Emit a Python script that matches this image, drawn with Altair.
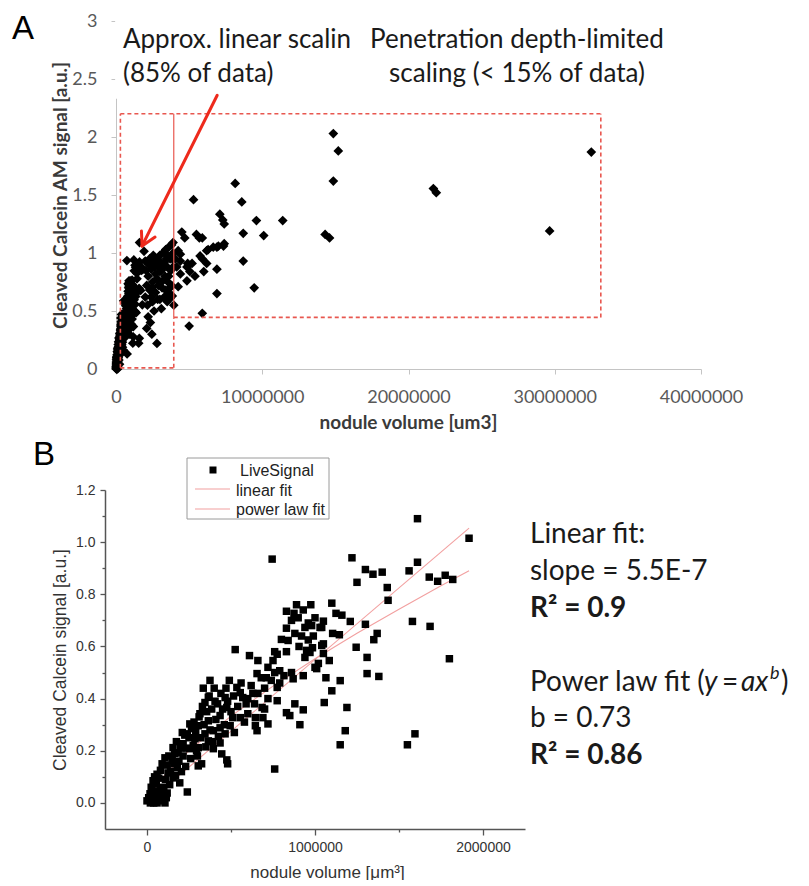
import altair as alt
import pandas as pd

# ---------------- data ----------------
# Panel B points: nodule volume (thousands of um^3) and cleaved calcein signal (a.u.)
b_vol_k = [
    1610, 1917, 1220, 1300, 1345, 1400, 1250, 1430, 1435, 1560, 1610, 1680, 1730, 1775, 1820,
    1580, 1685, 1800, 1300, 1370, 1350, 1245, 1310, 1310, 1380, 1210, 1100, 1125, 1160, 1050,
    1040, 1105, 1145, 1050, 1085, 1065, 1150, 1100, 1055, 1190, 1180, 1595, 1150, 1550, 930,
    910, 1010, 1020, 1040, 970, 930,
    745, 890, 975, 830, 875, 830, 940, 980, 1030, 800, 840, 905, 985, 1050, 760, 830, 950,
    525, 610, 660, 775, 750, 720, 940, 1000, 960, 900, 860, 930, 1000, 880, 920, 990, 960,
    655, 680, 710, 790, 815, 860, 870, 775, 775, 830, 880, 850, 685, 630, 570, 645, 690, 720,
    645, 655, 535, 490, 555, 590, 600, 555, 465, 475, 435, 510, 495, 375, 335, 365, 405, 345,
    315, 365, 395, 435, 465, 345, 305, 255, 285, 240, 210, 365, 435, 395, 445, 475, 305, 255,
    300, 325, 215, 185, 155, 150, 180, 107, 90, 125, 155, 195, 240, 60, 36, 77, 120, 95, 18,
    0, 760, 107, 480, 305,
    10, 20, 30, 45, 50, 55, 65, 70, 80, 85, 100, 110, 120, 130, 135, 140, 160, 165, 170, 175,
    190, 200, 205, 215, 225, 230, 240, 250, 260, 265, 275, 280, 290, 295, 310, 320, 330, 340,
    350, 355, 370, 375, 385, 390, 400, 410, 420, 425, 440, 450, 460, 470, 480, 500, 515, 520,
    540, 560, 580, 600, 620, 640, 660, 700, 720, 740, 700, 760, 790, 25, 45, 60, 90, 115, 40,
]
b_sig = [
    1.09, 1.015, 0.94, 0.895, 0.877, 0.885, 0.846, 0.826, 0.777, 0.89, 0.923, 0.866, 0.85, 0.873, 0.857,
    0.696, 0.677, 0.553, 0.685, 0.65, 0.626, 0.597, 0.558, 0.496, 0.485, 0.696, 0.766, 0.727, 0.72, 0.697,
    0.673, 0.65, 0.645, 0.61, 0.546, 0.48, 0.469, 0.43, 0.385, 0.366, 0.277, 0.265, 0.223, 0.223, 0.357,
    0.30, 0.515, 0.535, 0.604, 0.577, 0.488,
    0.935, 0.76, 0.76, 0.735, 0.727, 0.67, 0.673, 0.68, 0.673, 0.627, 0.623, 0.60, 0.595, 0.573, 0.58, 0.58, 0.585,
    0.588, 0.565, 0.546, 0.57, 0.546, 0.52, 0.558, 0.52, 0.69, 0.71, 0.70, 0.74, 0.71, 0.65, 0.64, 0.64, 0.625,
    0.496, 0.48, 0.48, 0.507, 0.488, 0.50, 0.476, 0.443, 0.392, 0.346, 0.38, 0.335, 0.366, 0.42, 0.404, 0.327, 0.327, 0.303,
    0.296, 0.277, 0.443, 0.47, 0.423, 0.38, 0.342, 0.327, 0.404, 0.366, 0.335, 0.327, 0.296, 0.47, 0.44, 0.405, 0.39, 0.385,
    0.342, 0.315, 0.277, 0.288, 0.265, 0.265, 0.296, 0.303, 0.246, 0.265, 0.27, 0.238, 0.23, 0.208, 0.188, 0.165, 0.212, 0.208,
    0.18, 0.15, 0.227, 0.192, 0.212, 0.162, 0.135, 0.173, 0.15, 0.115, 0.096, 0.077, 0.042, 0.11, 0.085, 0.058, 0.038, 0.008, 0.035,
    0.008, 0.13, 0.0, 0.15, 0.142,
    0.02, 0.0, 0.05, 0.02, 0.045, 0.075, 0.03, 0.095, 0.125, 0.02, 0.06, 0.09, 0.145, 0.18, 0.07, 0.12, 0.15, 0.19, 0.105, 0.235,
    0.16, 0.21, 0.12, 0.18, 0.26, 0.14, 0.21, 0.25, 0.17, 0.285, 0.22, 0.31, 0.27, 0.20, 0.33, 0.25, 0.37, 0.30,
    0.215, 0.35, 0.41, 0.28, 0.36, 0.235, 0.44, 0.32, 0.38, 0.255, 0.42, 0.36, 0.30, 0.44, 0.39, 0.35, 0.41, 0.27,
    0.37, 0.46, 0.31, 0.40, 0.45, 0.38, 0.42, 0.44, 0.40, 0.47, 0.36, 0.50, 0.46, 0.06, 0.10, 0.0, 0.04, 0.02, 0.0,
]

# Panel A: the same nodules plus the larger ones (thousands of um^3, a.u.)
a_extra_vol_k = [
    14860, 15200, 14860, 8150, 5300, 8600, 32500, 21700, 21900, 29650, 7100, 7300, 7400, 9600, 11400,
    8700, 10100, 14300, 14600, 8700, 6900, 6900, 9450, 5900, 5000, 4500, 4700, 5500, 5700, 5900,
    7350, 6900, 6300, 5750, 6200, 5200, 4850, 4400, 4400, 4250, 4850, 5400, 6000, 3850, 3900,
    4250, 4400, 5050, 5900, 6200, 6650, 7000, 7400, 4900, 3700, 2800, 2450, 2100,
    2000, 2100, 2200, 2300, 2400, 2500, 2500, 2600, 2700, 2700, 2800, 2900, 2900, 3000, 3000,
    3100, 3200, 3200, 3300, 3400, 3400, 3500, 3500, 3600, 3600, 3700, 3800, 3800, 3900, 3950,
    2200, 2600, 2350, 3100, 2000,
    2050, 2150, 2250, 2300, 2450, 2550, 2650, 2800, 2850, 3000, 3050, 3150, 3250, 3300, 3350,
    3450, 3500, 3650, 3700, 3850, 3900, 2400, 2750, 3550, 3750, 4050, 4150,
]
a_extra_sig = [
    2.03, 1.88, 1.62, 1.60, 1.46, 1.44, 1.87, 1.555, 1.52, 1.19, 1.335, 1.285, 1.25, 1.28, 1.28,
    1.17, 1.15, 1.16, 1.13, 0.93, 0.86, 0.65, 0.70, 0.48, 0.37, 1.18, 1.13, 1.16, 1.13, 1.13,
    1.06, 1.05, 1.03, 0.975, 0.91, 0.91, 0.88, 0.99, 0.82, 0.71, 0.76, 0.80, 0.84, 0.63, 1.09,
    1.02, 0.93, 0.84, 0.95, 1.02, 1.05, 1.06, 1.08, 0.91, 0.61, 0.22, 0.30, 0.35,
    0.62, 0.72, 0.80, 0.68, 0.86, 0.75, 0.58, 0.92, 0.82, 0.66, 0.95, 0.88, 0.72, 0.98, 0.60,
    0.85, 1.00, 0.76, 0.92, 1.03, 0.68, 0.88, 0.58, 1.05, 0.80, 0.95, 1.07, 0.72, 0.88, 0.55,
    0.45, 0.50, 0.40, 0.52, 0.93,
    0.85, 0.55, 0.90, 0.95, 0.70, 0.98, 0.88, 0.78, 0.60, 0.84, 0.92, 0.70, 0.88, 0.62, 0.80,
    0.95, 0.98, 0.65, 0.70, 0.95, 1.00, 0.62, 0.90, 0.75, 0.85, 0.95, 0.88,
]

# Panel B fit curves
lin_vol_k = [0, 1917]
lin_sig = [0.0, 1.054]
pow_vol_k = [0, 25, 100, 250, 500, 750, 1000, 1250, 1500, 1750, 1917]
pow_sig = [0.0, 0.037, 0.103, 0.20, 0.333, 0.448, 0.553, 0.651, 0.743, 0.833, 0.89]

# Panel A region boxes (thousands of um^3, a.u.)
dash_x1_k = [300, 300, 300, 3950, 3950, 33150]
dash_x2_k = [300, 33150, 3950, 3950, 33150, 33150]
dash_y1 = [0.01, 2.2, 0.01, 0.01, 0.445, 0.445]
dash_y2 = [2.2, 2.2, 0.01, 0.445, 0.445, 2.2]
solid_x1_k = [3950]
solid_x2_k = [3950]
solid_y1 = [0.445]
solid_y2 = [2.2]
# red arrow: shaft and two barbs
arrow_x1_k = [6920, 1780, 1780]
arrow_x2_k = [1780, 1740, 2670]
arrow_y1 = [2.36, 1.06, 1.06]
arrow_y2 = [1.06, 1.19, 1.138]

a_xticks = [0, 10000000, 20000000, 30000000, 40000000]
a_yticks = [0, 0.5, 1, 1.5, 2, 2.5, 3]
b_xticks = [0, 500000, 1000000, 1500000, 2000000]
b_yticks = [0.0, 0.1, 0.2, 0.3, 0.4, 0.5, 0.6, 0.7, 0.8, 0.9, 1.0, 1.1, 1.2]

# ---------------- tables ----------------
dfB = pd.DataFrame({"vol": [v * 1000 for v in b_vol_k], "sig": b_sig})
dfA = pd.concat([dfB, pd.DataFrame({"vol": [v * 1000 for v in a_extra_vol_k], "sig": a_extra_sig})],
                ignore_index=True)
df_lin = pd.DataFrame({"vol": [v * 1000 for v in lin_vol_k], "sig": lin_sig})
df_pow = pd.DataFrame({"vol": [v * 1000 for v in pow_vol_k], "sig": pow_sig})


def seg_df(x1, x2, y1, y2):
    return pd.DataFrame({"vol": [v * 1000 for v in x1], "vol2": [v * 1000 for v in x2],
                         "sig": y1, "sig2": y2})


df_dash = seg_df(dash_x1_k, dash_x2_k, dash_y1, dash_y2)
df_solid = seg_df(solid_x1_k, solid_x2_k, solid_y1, solid_y2)
df_arrow = seg_df(arrow_x1_k, arrow_x2_k, arrow_y1, arrow_y2)
one = pd.DataFrame({"k": [0]})


def label(text, x, y, size, font="Lato", weight="normal", style="normal", align="left", color="#1a1a1a",
          baseline="middle"):
    return alt.Chart(one).mark_text(align=align, baseline=baseline, font=font, fontSize=size,
                                    fontWeight=weight, fontStyle=style, color=color).encode(
        x=alt.value(x), y=alt.value(y), text=alt.value(text))


# ---------------- panel A ----------------
WA, HA = 585, 348
axA_x = alt.Axis(values=a_xticks, format="d", title="nodule volume [um3]", grid=False,
                 domainColor="#c4c4c4", tickColor="#c4c4c4", tickSize=5, labelColor="#595959",
                 labelFont="Lato", labelFontSize=18, labelPadding=14, labelFlush=False, labelOverlap=False,
                 titleFont="Lato", titleFontSize=19, titleFontWeight="bold", titleColor="#3a3a3a",
                 titleX=292, titleY=53, titleBaseline="middle")
axA_y = alt.Axis(values=a_yticks, format="~g", title="Cleaved Calcein AM signal [a.u.]", grid=False,
                 domainColor="#c4c4c4", tickColor="#c4c4c4", tickSize=5, labelColor="#595959",
                 labelFont="Lato", labelFontSize=18, labelPadding=14, labelOverlap=False,
                 titleFont="Lato", titleFontSize=19, titleFontWeight="bold", titleColor="#3a3a3a",
                 titleX=-56, titleY=HA / 2, titleBaseline="middle", titleAngle=270)
scA_x = alt.Scale(domain=[0, 40000000], nice=False, zero=False)
scA_y = alt.Scale(domain=[0, 3], nice=False, zero=False)


def xa(f="vol"):
    return alt.X(f + ":Q", scale=scA_x, axis=axA_x, title="nodule volume [um3]")


def ya(f="sig"):
    return alt.Y(f + ":Q", scale=scA_y, axis=axA_y, title="Cleaved Calcein AM signal [a.u.]")


pointsA = alt.Chart(dfA).mark_point(shape="diamond", filled=True, size=95, color="black",
                                    opacity=1).encode(x=xa(), y=ya())
cover = alt.Chart(one).mark_rect(color="white").encode(
    x=alt.XDatum(-60000, scale=scA_x, axis=axA_x), x2=alt.X2Datum(33600000),
    y=alt.YDatum(2.33, scale=scA_y, axis=axA_y), y2=alt.Y2Datum(3.06))
dashA = alt.Chart(df_dash).mark_rule(color="#e8574f", strokeWidth=1.6, strokeDash=[4, 3]).encode(
    x=xa(), x2="vol2:Q", y=ya(), y2="sig2:Q")
solidA = alt.Chart(df_solid).mark_rule(color="#e8574f", strokeWidth=1.2).encode(
    x=xa(), x2="vol2:Q", y=ya(), y2="sig2:Q")
arrowA = alt.Chart(df_arrow).mark_rule(color="#ee2a1c", strokeWidth=3, strokeCap="round").encode(
    x=xa(), x2="vol2:Q", y=ya(), y2="sig2:Q")

panelA = alt.layer(
    cover, pointsA, dashA, solidA, arrowA,
    label("Approx. linear scalin", 7, 19, 26),
    label("(85% of data)", 7, 53, 26),
    label("Penetration depth-limited", 401, 19, 26, align="center"),
    label("scaling (< 15% of data)", 401, 53, 26, align="center"),
    label("A", -104, 17.5, 33, font="Liberation Sans", color="black", baseline="alphabetic"),
).properties(width=WA, height=HA)

# ---------------- panel B ----------------
WB, HB = 409, 339
axB_x = alt.Axis(values=b_xticks, format="d", labelExpr="datum.value % 1000000 === 0 ? datum.label : ''",
                 title="nodule volume [\u03bcm\u00b3]", grid=False, domainColor="#555555", domainWidth=1.5,
                 tickColor="#555555", tickWidth=1.3,
                 tickSize={"condition": {"test": "datum.value % 1000000 !== 0", "value": 3}, "value": 6},
                 labelColor="#333333", labelFont="Liberation Sans", labelFontSize=14, labelPadding=5,
                 labelFlush=False, labelOverlap=False,
                 titleFont="Liberation Sans", titleFontSize=17, titleFontWeight="normal", titleColor="#333333",
                 titleX=211, titlePadding=10)
axB_y = alt.Axis(values=b_yticks, format=".1f", labelExpr="round(datum.value * 10) % 2 === 0 ? datum.label : ''",
                 title="Cleaved Calcein signal [a.u.]", grid=False, domainColor="#555555", domainWidth=1.5,
                 tickColor="#555555", tickWidth=1.3, offset=11,
                 tickSize={"condition": {"test": "round(datum.value * 10) % 2 !== 0", "value": 3}, "value": 5},
                 labelColor="#333333", labelFont="Liberation Sans", labelFontSize=14, labelPadding=5,
                 labelOverlap=False,
                 titleFont="Liberation Sans", titleFontSize=17.5, titleFontWeight="normal", titleColor="#333333",
                 titlePadding=6)
scB_x = alt.Scale(domain=[-250000, 2250000], range=[-11, 409], nice=False, zero=False)
scB_y = alt.Scale(domain=[-0.1, 1.2], nice=False, zero=False)


def xb():
    return alt.X("vol:Q", scale=scB_x, axis=axB_x, title="nodule volume [\u03bcm\u00b3]")


def yb():
    return alt.Y("sig:Q", scale=scB_y, axis=axB_y, title="Cleaved Calcein signal [a.u.]")


pointsB = alt.Chart(dfB).mark_square(size=56, color="black", opacity=1).encode(x=xb(), y=yb())
linB = alt.Chart(df_lin).mark_line(color="#f2a0a0", strokeWidth=1.1).encode(x=xb(), y=yb())
powB = alt.Chart(df_pow).mark_line(color="#f2a0a0", strokeWidth=1.1).encode(x=xb(), y=yb())

legend_box = alt.Chart(one).mark_rect(fill="white", stroke="#9a9a9a", strokeWidth=1).encode(
    x=alt.value(71), x2=alt.value(213), y=alt.value(-32), y2=alt.value(29))
legend_sq = alt.Chart(one).mark_square(color="black", size=49, opacity=1).encode(
    x=alt.value(97), y=alt.value(-20))
legend_l1 = alt.Chart(one).mark_rule(color="#f2a0a0", strokeWidth=1.2).encode(
    x=alt.value(79), x2=alt.value(114), y=alt.value(-1))
legend_l2 = alt.Chart(one).mark_rule(color="#f2a0a0", strokeWidth=1.2).encode(
    x=alt.value(79), x2=alt.value(114), y=alt.value(19))

panelB = alt.layer(
    linB, powB, pointsB,
    legend_box, legend_sq, legend_l1, legend_l2,
    label("LiveSignal", 124, -19, 16, font="Liberation Sans", color="#222222"),
    label("linear fit", 120, 1, 16, font="Liberation Sans", color="#222222"),
    label("power law fit", 120, 20, 16, font="Liberation Sans", color="#222222"),
    label("B", -83, -35, 33, font="Liberation Sans", color="black"),
    label("Linear fit:", 414, 45, 28),
    label("slope = 5.5E-7", 414, 82, 28),
    label("R\u00b2 = 0.9", 414, 119, 28, weight="bold"),
    label("Power law fit (", 414, 193, 28),
    label("y", 588, 193, 28, style="italic"),
    label("=", 606, 193, 28),
    label("ax", 625, 193, 28, style="italic"),
    label("b", 654, 184, 18, style="italic"),
    label(")", 665, 193, 28),
    label("b = 0.73", 414, 229, 28),
    label("R\u00b2 = 0.86", 414, 266, 28, weight="bold"),
).properties(width=WB, height=HB)

chart = alt.vconcat(panelA, panelB, spacing=121, bounds="flush").resolve_scale(
    x="independent", y="independent").configure_view(stroke=None).properties(
    padding={"top": 4, "left": 4, "right": 0, "bottom": 0})

chart.save("out.html", embed_options={"renderer": "svg", "actions": False})
